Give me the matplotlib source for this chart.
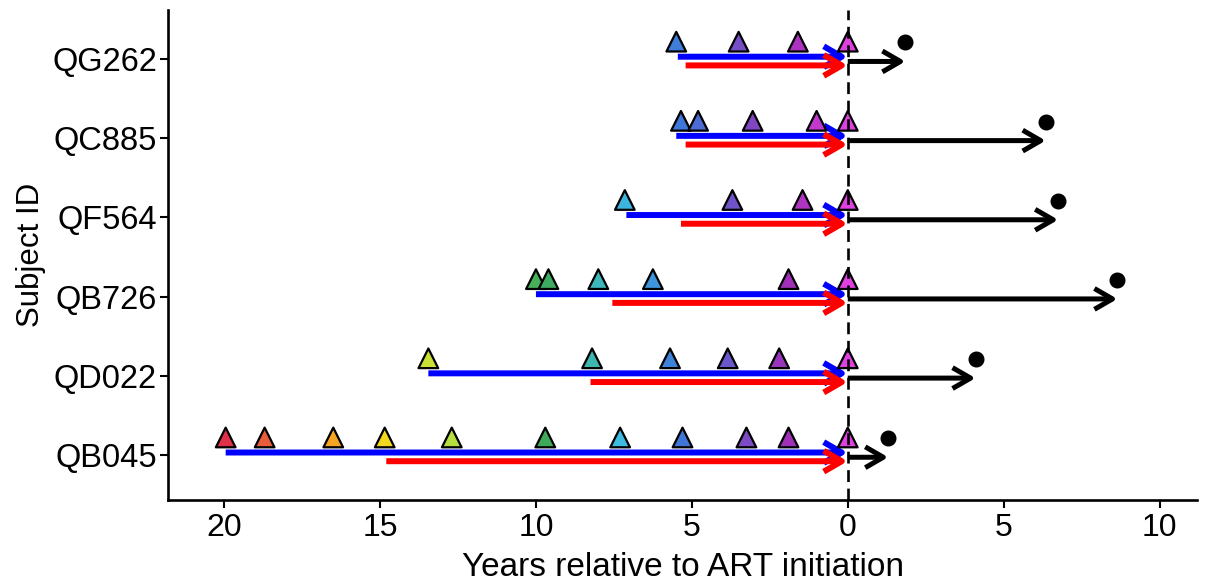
import matplotlib
matplotlib.use('Agg')
import matplotlib.pyplot as plt
import numpy as np
from matplotlib.colors import LinearSegmentedColormap

plt.rcParams['font.family'] = ['Liberation Sans', 'DejaVu Sans']

# subjects, bottom to top
subjects = ['QB045', 'QD022', 'QB726', 'QF564', 'QC885', 'QG262']

# sample times, years before ART initiation
sample_years = [
    [19.95, 18.7, 16.5, 14.85, 12.7, 9.7, 7.3, 5.3, 3.25, 1.9, 0.0],
    [13.45, 8.2, 5.7, 3.85, 2.2, 0.0],
    [10.0, 9.6, 8.0, 6.25, 1.9, 0.0],
    [7.15, 3.7, 1.45, 0.0],
    [5.35, 4.8, 3.05, 1.0, 0.0],
    [5.5, 3.5, 1.6, 0.0],
]
blue_start = [19.95, 13.45, 10.0, 7.1, 5.5, 5.45]   # years before ART
red_start = [14.8, 8.25, 7.55, 5.35, 5.2, 5.2]      # years before ART
post_art = [1.3, 4.1, 8.65, 6.75, 6.35, 1.85]       # years after ART

xticks = [-20, -15, -10, -5, 0, 5, 10]
xtick_labels = ['20', '15', '10', '5', '0', '5', '10']

# colour of a sample by its time before ART
time_cmap = LinearSegmentedColormap.from_list('sample_time', [
    (0.0, '#E0304A'), (1.3 / 20, '#E8603A'), (3.5 / 20, '#F5A623'),
    (5.15 / 20, '#F2DA1E'), (7.3 / 20, '#B5E040'), (10.3 / 20, '#3DAA5A'),
    (12.7 / 20, '#3DBCE0'), (14.7 / 20, '#3F76D8'), (16.7 / 20, '#7A4CC4'),
    (18.1 / 20, '#A030B8'), (1.0, '#E040E0'),
])

fig = plt.figure(figsize=(12.15, 5.81), dpi=100)
ax = fig.add_axes([168 / 1215, 81 / 581, 1029 / 1215, 490 / 581])

head = '->,head_length=1.3,head_width=0.75'
for i, name in enumerate(subjects):
    y = i + 1
    ax.annotate('', xy=(0, y + 0.03), xytext=(-blue_start[i], y + 0.03),
                arrowprops=dict(arrowstyle=head, lw=4.3, color='#0000FF',
                                shrinkA=0, shrinkB=0, capstyle='butt'), zorder=2)
    ax.annotate('', xy=(0, y - 0.08), xytext=(-red_start[i], y - 0.08),
                arrowprops=dict(arrowstyle=head, lw=4.3, color='#FF0000',
                                shrinkA=0, shrinkB=0, capstyle='butt'), zorder=3)
    ax.annotate('', xy=(post_art[i], y - 0.03), xytext=(0, y - 0.03),
                arrowprops=dict(arrowstyle=head, lw=3.6, color='black',
                                shrinkA=0, shrinkB=0, capstyle='butt'), zorder=3)
    ax.plot(post_art[i], y + 0.21, 'o', color='black', ms=10.5, zorder=4)
    yrs = np.array(sample_years[i])
    ax.scatter(-yrs, np.full(len(yrs), y + 0.22), marker='^', s=200,
               c=time_cmap(1 - yrs / 20), edgecolors='black', linewidths=1.6,
               zorder=4)

ax.axvline(0, color='black', lw=1.9, ls=(0, (4.5, 2.5)), zorder=5)

ax.set_xlim(-21.8, 11.2)
ax.set_ylim(0.43, 6.62)
ax.set_xticks(xticks)
ax.set_xticklabels(xtick_labels)
ax.set_yticks(range(1, len(subjects) + 1))
ax.set_yticklabels(subjects)
ax.tick_params(width=1.5, length=6, color='black', pad=3)
ax.tick_params(axis='x', labelsize=23)
ax.tick_params(axis='y', labelsize=23.5, pad=2)
ax.set_xlabel('Years relative to ART initiation', fontsize=24, labelpad=7)
ax.set_ylabel('Subject ID', fontsize=22.5, labelpad=4)
for s in ['top', 'right']:
    ax.spines[s].set_visible(False)
for s in ['left', 'bottom']:
    ax.spines[s].set_linewidth(1.9)

fig.savefig('out.png', dpi=100)
